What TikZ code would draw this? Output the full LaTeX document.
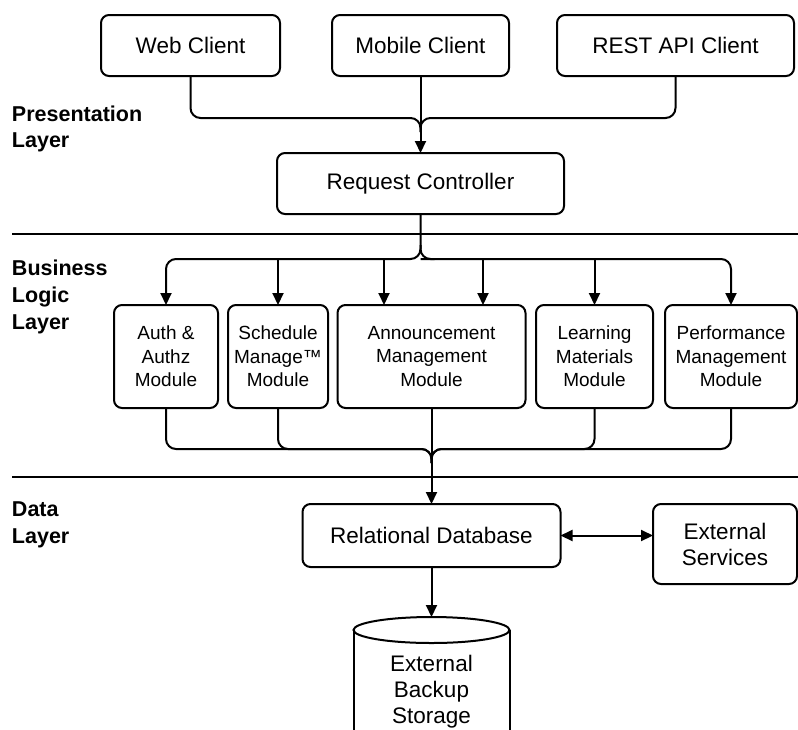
\documentclass[tikz,border=0pt]{standalone}
\usepackage{fontspec}
\setmainfont{Liberation Sans}
\usetikzlibrary{arrows.meta}
\begin{document}
\begin{tikzpicture}[x=1pt,y=-1pt,
  every node/.style={inner sep=0pt, outer sep=0pt},
  box/.style={draw, line width=2pt, rounded corners=8pt, align=center,
    font=\fontsize{22.5}{26}\selectfont},
  modbox/.style={box, minimum height=103pt, font=\fontsize{19}{23.5}\selectfont},
  lay/.style={anchor=base west, font=\bfseries\fontsize{21.5}{27}\selectfont},
  wire/.style={line width=2pt, rounded corners=10pt},
  conn/.style={wire, -{Triangle[length=12pt,width=11pt]}},
  sep/.style={line width=2pt}]
\useasboundingbox (0,0) rectangle (798,729);

% layer separators
\draw[sep] (12,234) -- (798,234);
\draw[sep] (12,477) -- (798,477);

% layer titles
\node[lay] (pl1) at (12,121) {Presentation};
\node[lay] (pl2) at (12,147) {Layer};
\node[lay] (bl1) at (12,275) {Business};
\node[lay] (bl2) at (12,302) {Logic};
\node[lay] (bl3) at (12,329) {Layer};
\node[lay] (dl1) at (12,516) {Data};
\node[lay] (dl2) at (12,543) {Layer};

% presentation layer
\node[box, minimum width=179pt, minimum height=61pt] (web)  at (190.5,45.5) {Web Client};
\node[box, minimum width=177pt, minimum height=61pt] (mob)  at (420.5,45.5) {Mobile Client};
\node[box, minimum width=237pt, minimum height=61pt] (rest) at (675.5,45.5) {REST API Client};
\node[box, minimum width=287pt, minimum height=61pt] (rc)   at (420.5,183.5) {Request Controller};

% business logic layer
\node[modbox, minimum width=104pt] (auth)  at (166,356.5)   {Auth \&\\Authz\\Module};
\node[modbox, minimum width=100pt] (sched) at (278,356.5)   {Schedule\\Manage™\\Module};
\node[modbox, minimum width=188pt] (ann)   at (431.5,356.5) {Announcement\\Management\\Module};
\node[modbox, minimum width=117pt] (learn) at (594.5,356.5) {Learning\\Materials\\Module};
\node[modbox, minimum width=132pt] (perf)  at (731,356.5)   {Performance\\Management\\Module};

% data layer
\node[box, minimum width=258pt, minimum height=63pt] (rd) at (431.5,535.5) {Relational Database};
\node[box, minimum width=144pt, minimum height=80pt] (es) at (725,544) {External\\Services};

% backup storage cylinder
\coordinate (sttop) at (431.5,617);
\draw[sep] (431.5,630) ellipse [x radius=78, y radius=13];
\draw[sep] (353.5,630) -- (353.5,745) (509.5,630) -- (509.5,745);
\node[align=center, font=\fontsize{22.5}{26}\selectfont] (bk) at (431.5,692) {External\\Backup\\Storage};

% clients to request controller
\coordinate (j1) at (420.5,118);
\draw[wire] (web.south) |- (j1) -- ++(0,14);
\draw[wire] (rest.south) |- (j1) -- ++(0,14);
\draw[conn] (mob.south) -- (rc.north);

% request controller to modules
\coordinate (j2) at (420.5,259);
\coordinate (a1) at ([xshift=-47.5pt]ann.north);
\coordinate (a2) at ([xshift=51.5pt]ann.north);
\draw[conn] (rc.south) -- (j2) -| (auth.north);
\draw[conn] (j2) -| (perf.north);
\draw[wire] ([yshift=14pt]j2) -- (j2) -- ++(14,0);
\draw[conn] (sched.north |- j2) -- (sched.north);
\draw[conn] (a1 |- j2) -- (a1);
\draw[conn] (a2 |- j2) -- (a2);
\draw[conn] (learn.north |- j2) -- (learn.north);

% modules to database
\coordinate (j3) at (431.5,449);
\draw[wire] (auth.south) |- (j3) -- ++(0,14);
\draw[wire] (sched.south) |- (j3) -- ++(0,14);
\draw[wire] (learn.south) |- (j3) -- ++(0,14);
\draw[wire] (perf.south) |- (j3) -- ++(0,14);
\draw[conn] (ann.south) -- (rd.north);

% database links
\draw[line width=2pt, {Triangle[length=12pt,width=11pt]}-{Triangle[length=12pt,width=11pt]}] (rd.east) -- (rd.east -| es.west);
\draw[conn] (rd.south) -- (sttop);
\end{tikzpicture}
\end{document}
